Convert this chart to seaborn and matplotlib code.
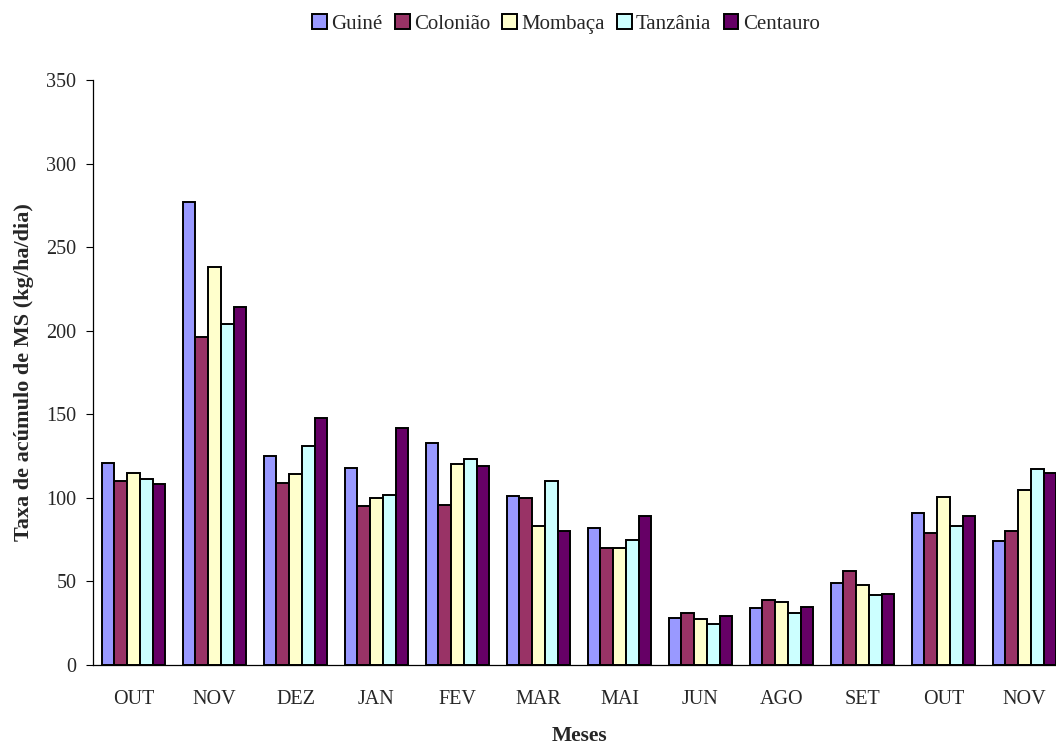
import numpy as np
import pandas as pd
import matplotlib
matplotlib.use("Agg")
import matplotlib.pyplot as plt
import seaborn as sns
from matplotlib.ticker import FixedLocator, NullFormatter

months = ["OUT", "NOV", "DEZ", "JAN", "FEV", "MAR", "MAI", "JUN", "AGO", "SET", "OUT", "NOV"]
cultivars = ["Guiné", "Colonião", "Mombaça", "Tanzânia", "Centauro"]
guine    = [121, 277, 125, 118, 133, 101, 82, 28, 34, 49, 91, 74]
coloniao = [110, 196, 109, 95, 96, 100, 70, 31, 39, 56, 79, 80]
mombaca  = [115, 238, 114, 100, 120, 83, 70, 27.5, 37.5, 48, 100.5, 105]
tanzania = [111, 204, 131, 102, 123, 110, 74.5, 24.5, 31, 42, 83, 117]
centauro = [108, 214, 148, 141.5, 119, 80, 89, 29.5, 35, 42.5, 89, 115]
colors = ["#9999FF", "#993366", "#FFFFCC", "#CCFFFF", "#660066"]

series = [guine, coloniao, mombaca, tanzania, centauro]
rows = []
for name, vals in zip(cultivars, series):
    for i, v in enumerate(vals):
        rows.append({"pos": i, "val": v, "cultivar": name})
df = pd.DataFrame(rows)

sns.set_style("white")
plt.rcParams["font.family"] = ["Liberation Serif", "DejaVu Serif"]

W, H = 1056, 745
fig = plt.figure(figsize=(W / 100, H / 100), dpi=100)
ax = fig.add_axes([93 / W, (H - 665) / H, (1065 - 93) / W, 585 / H])

sns.barplot(data=df, x="pos", y="val", hue="cultivar", hue_order=cultivars,
            palette=colors, saturation=1, edgecolor="black", linewidth=1.4,
            width=0.785, gap=0, errorbar=None, ax=ax, legend=True)

ax.set_xlim(-0.5, 11.5)
ax.set_ylim(0, 350)
ax.set_yticks(np.arange(0, 351, 50))
ax.set_xticks(range(12))
ax.set_xticklabels(months)
ax.xaxis.set_minor_locator(FixedLocator(np.arange(-0.5, 12, 1)))
ax.xaxis.set_minor_formatter(NullFormatter())
ax.tick_params(axis="x", which="major", length=0, pad=18, labelsize=14.5)
ax.tick_params(axis="x", which="minor", length=5, width=0.8, direction="out", color="black")
ax.tick_params(axis="y", length=5, width=0.8, direction="out", color="black", pad=7, labelsize=14.5, left=True)

for s in ["top", "right"]:
    ax.spines[s].set_visible(False)
for s in ["left", "bottom"]:
    ax.spines[s].set_color("black")
    ax.spines[s].set_linewidth(0.9)

ax.set_xlabel("Meses", fontsize=15.5, fontweight="bold", labelpad=12)
ax.set_ylabel("Taxa de acúmulo de MS (kg/ha/dia)", fontsize=16, fontweight="bold", labelpad=9)

handles, labels = ax.get_legend_handles_labels()
ax.get_legend().remove()
leg = fig.legend(handles, labels, loc="upper center", bbox_to_anchor=(566 / W, 1 - 6 / H),
                 ncol=5, frameon=False, fontsize=15, handlelength=0.7, handleheight=0.7,
                 handletextpad=0.2, columnspacing=0.6, borderaxespad=0)

fig.savefig("out.png", dpi=100)
